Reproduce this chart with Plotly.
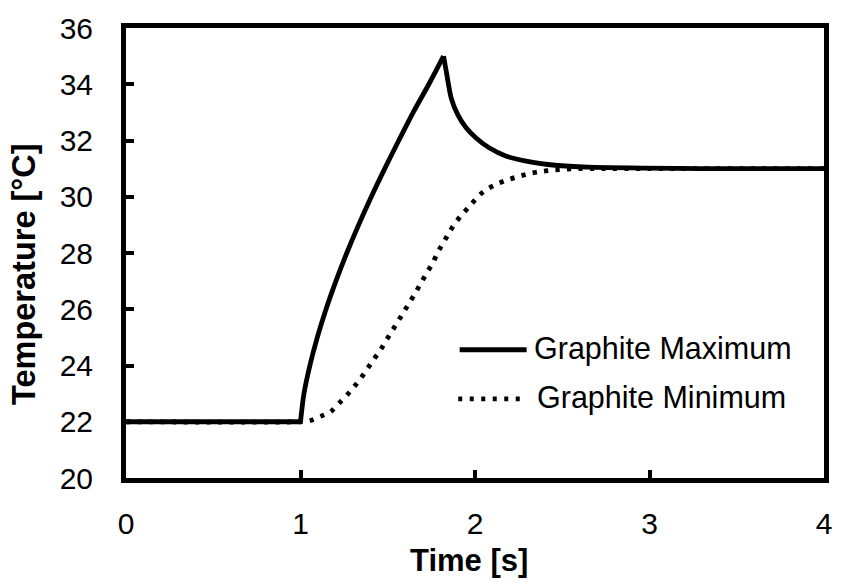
import plotly.graph_objects as go

# Graphite maximum temperature, initial constant part
time_max_base = [0.0, 1.0]
temp_max_base = [22.0, 22.0]
# Graphite maximum temperature, heating part
time_max_rise = [1.0, 1.0198, 1.0538, 1.0963, 1.1462, 1.2028, 1.2652, 1.3331, 1.4057,
                 1.4827, 1.5632, 1.6459, 1.7354, 1.8198]
temp_max_rise = [22.0, 23.0, 24.0, 25.0, 26.0, 27.0, 28.0, 29.0, 30.0,
                 31.0, 32.0, 33.0, 34.0, 35.0]
# Graphite maximum temperature, relaxation part
time_max_fall = [1.8198, 1.836, 1.864, 1.902, 1.949, 2.006, 2.081, 2.176, 2.308, 2.459,
                 2.648, 2.96, 3.3, 4.0]
temp_max_fall = [35.0, 34.43, 33.50, 32.91, 32.45, 32.09, 31.74, 31.45, 31.25, 31.12,
                 31.05, 31.02, 31.0, 31.0]

# Graphite minimum temperature
time_min = [0.0, 1.0, 1.05, 1.11, 1.171, 1.218, 1.263, 1.305, 1.345, 1.382, 1.420, 1.458,
            1.492, 1.526, 1.560, 1.594, 1.628, 1.662, 1.694, 1.726, 1.760, 1.789, 1.823,
            1.855, 1.892, 1.930, 1.977, 2.024, 2.072, 2.129, 2.191, 2.255, 2.317, 2.384,
            2.449, 2.516, 2.582, 2.7, 3.0, 4.0]
temp_min = [22.0, 22.0, 22.03, 22.18, 22.35, 22.64, 22.93, 23.23, 23.54, 23.87, 24.22, 24.55,
            24.90, 25.24, 25.58, 25.93, 26.27, 26.62, 26.97, 27.32, 27.67, 28.06, 28.41,
            28.76, 29.11, 29.40, 29.72, 30.05, 30.28, 30.46, 30.61, 30.73, 30.83, 30.90,
            30.95, 30.98, 31.0, 31.0, 31.0, 31.0]

series_names = ["Graphite Maximum", "Graphite Minimum"]
x_ticks = [0, 1, 2, 3, 4]
y_ticks = [20, 22, 24, 26, 28, 30, 32, 34, 36]

FONT = "Arial, Liberation Sans, sans-serif"
LW = 4.8
DOT = "4px,7.5px"

fig = go.Figure()
fig.add_trace(go.Scatter(x=time_min, y=temp_min, mode="lines", name=series_names[1],
                         line=dict(color="black", width=LW, dash=DOT, shape="spline", smoothing=0.8),
                         showlegend=False))
fig.add_trace(go.Scatter(x=time_max_base, y=temp_max_base, mode="lines", name=series_names[0],
                         line=dict(color="black", width=LW), showlegend=False))
fig.add_trace(go.Scatter(x=time_max_rise, y=temp_max_rise, mode="lines", name=series_names[0],
                         line=dict(color="black", width=LW, shape="spline", smoothing=0.8),
                         showlegend=False))
fig.add_trace(go.Scatter(x=time_max_fall, y=temp_max_fall, mode="lines", name=series_names[0],
                         line=dict(color="black", width=LW, shape="spline", smoothing=0.8),
                         showlegend=False))

# custom legend (line samples + labels)
fig.add_shape(type="line", xref="paper", yref="paper", x0=0.478, x1=0.574, y0=0.285, y1=0.285,
              line=dict(color="black", width=LW))
fig.add_shape(type="line", xref="paper", yref="paper", x0=0.476, x1=0.565, y0=0.176, y1=0.176,
              line=dict(color="black", width=LW, dash=DOT))
fig.add_annotation(text=series_names[0], xref="paper", yref="paper", x=0.582, y=0.287,
                   xanchor="left", yanchor="middle", showarrow=False,
                   font=dict(family=FONT, size=30.5, color="black"))
fig.add_annotation(text=series_names[1], xref="paper", yref="paper", x=0.586, y=0.178,
                   xanchor="left", yanchor="middle", showarrow=False,
                   font=dict(family=FONT, size=30.5, color="black"))

# axis titles
fig.add_annotation(text="<b>Time [s]</b>", xref="paper", yref="paper", x=0.5, y=0,
                   xanchor="center", yanchor="middle", xshift=-6, yshift=-82, showarrow=False,
                   font=dict(family=FONT, size=31, color="black"))
fig.add_annotation(text="<b>Temperature [°C]</b>", xref="paper", yref="paper", x=0, y=0.5,
                   xanchor="center", yanchor="middle", xshift=-102, yshift=-21, textangle=-90,
                   showarrow=False, font=dict(family=FONT, size=32.5, color="black"))

axis_common = dict(showgrid=False, zeroline=False, showline=True, linecolor="black",
                   linewidth=5, mirror=True, ticks="inside", ticklen=8, tickwidth=4,
                   tickcolor="black", tickfont=dict(family=FONT, size=30, color="black"))

fig.update_xaxes(range=[0, 4], tickvals=x_ticks, ticktext=[str(v) for v in x_ticks],
                 ticklabelstandoff=15, **axis_common)
fig.update_yaxes(range=[20, 36], tickvals=y_ticks, ticktext=[str(v) for v in y_ticks],
                 ticklabelstandoff=22, **axis_common)

fig.update_layout(width=843, height=583, margin=dict(l=126, r=11, t=22, b=105),
                  paper_bgcolor="white", plot_bgcolor="white", showlegend=False,
                  font=dict(family=FONT, color="black"))

fig.write_html("out.html")
